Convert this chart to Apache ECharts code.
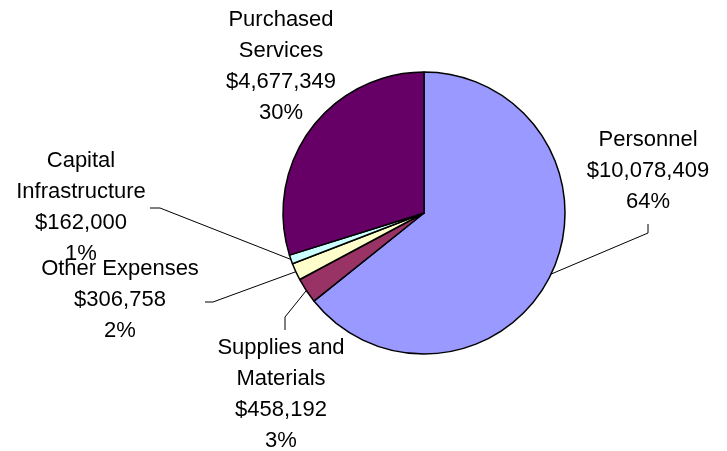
<!DOCTYPE html>
<html><head><meta charset="utf-8">
<script src="https://cdn.jsdelivr.net/npm/echarts@6/dist/echarts.min.js"></script>
<style>html,body{margin:0;padding:0;background:#fff}#c{width:727px;height:451px}</style>
</head><body><div id="c"></div>
<script>
// ---- data ----
const categories = ['Personnel', 'Supplies and\nMaterials', 'Other Expenses', 'Capital\nInfrastructure', 'Purchased\nServices'];
const values = [10078409, 458192, 306758, 162000, 4677349];
const colors = ['#9999FF', '#993366', '#FFFFCC', '#CCFFFF', '#660066'];

// ---- label layout (positions only) ----
const labelBoxes = [
  {x: 648, y: 171, end: [648, 224], knee: [648, 233]},
  {x: 281, y: 394, end: [285, 330], knee: [285, 317]},
  {x: 120, y: 300, end: [205, 302], knee: [213, 302]},
  {x: 81,  y: 207, end: [150, 208], knee: [160, 208]},
  {x: 281, y: 66,  end: null}
];

const chart = echarts.init(document.getElementById('c'), null, {renderer: 'canvas'});
const data = categories.map((n, i) => ({
  name: n,
  value: values[i],
  itemStyle: {color: colors[i]},
  labelLine: {show: labelBoxes[i].end !== null}
}));

chart.setOption({
  animation: false,
  backgroundColor: '#ffffff',
  series: [{
    type: 'pie',
    center: [424, 213],
    radius: 141,
    startAngle: 90,
    clockwise: true,
    avoidLabelOverlap: false,
    data: data,
    itemStyle: {borderColor: '#000000', borderWidth: 1.5},
    label: {
      show: true,
      position: 'outside',
      color: '#000000',
      fontFamily: 'Liberation Sans, Arial, sans-serif',
      fontSize: 22,
      lineHeight: 31,
      align: 'center',
      formatter: p => p.name + '\n$' + p.value.toLocaleString('en-US') + '\n' + Math.round(p.percent) + '%'
    },
    labelLine: {show: true, lineStyle: {color: '#000000', width: 1}, length: 10, length2: 10},
    labelLayout: function (p) {
      const b = labelBoxes[p.dataIndex];
      const out = {x: b.x, y: b.y, align: 'center', verticalAlign: 'middle'};
      if (b.end && p.labelLinePoints) {
        out.labelLinePoints = [p.labelLinePoints[0], b.knee, b.end];
      }
      return out;
    },
    emphasis: {disabled: true}
  }]
});
</script>
</body></html>
